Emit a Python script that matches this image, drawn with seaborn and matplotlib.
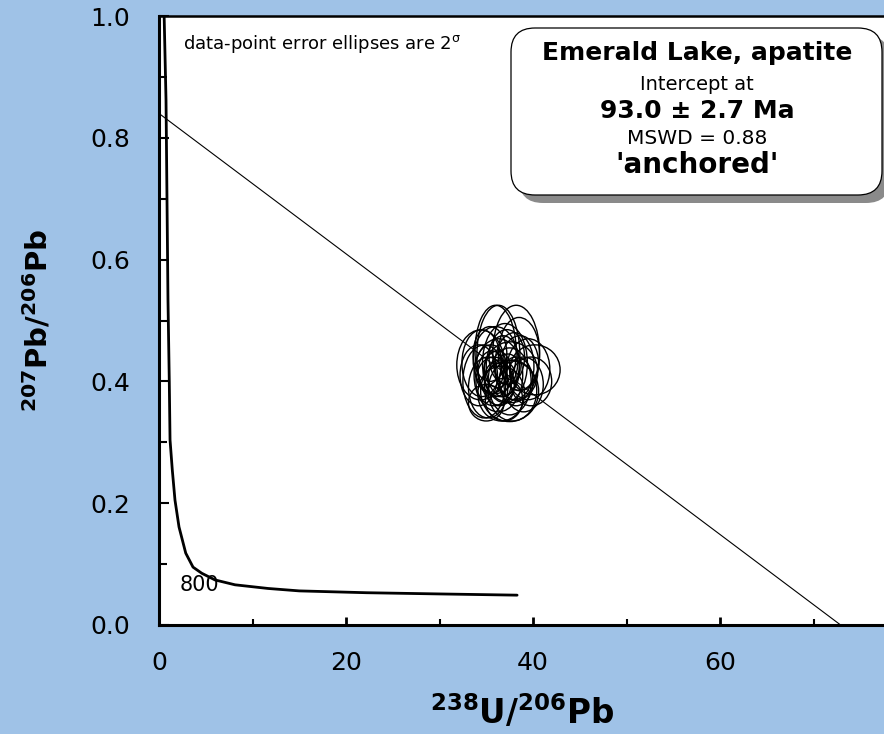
import numpy as np
import pandas as pd
import matplotlib
matplotlib.use("Agg")
import matplotlib.pyplot as plt
import seaborn as sns
from matplotlib.patches import Ellipse, FancyBboxPatch
from matplotlib.transforms import IdentityTransform

# ---- data ----
conc_x = [0.55, 0.75, 0.96, 1.10, 1.18, 1.42, 1.71, 2.14, 2.86, 3.64, 4.57, 5.99, 8.13, 11.66, 15.0, 22.2, 30.0, 38.3]
conc_y = [1.0, 0.862, 0.534, 0.40, 0.304, 0.255, 0.205, 0.161, 0.118, 0.095, 0.085, 0.074, 0.066, 0.060, 0.056, 0.053, 0.051, 0.049]

line_x = [0.0, 72.9]
line_y = [0.84, 0.0]

ell_x = [36.3, 38.2, 40.2, 34.4, 37.5, 36.0, 34.5, 39.5, 34.2, 36.3, 37.5, 35.2, 37.8, 36.6,
         35.8, 38.6, 36.8, 35.5, 37.2, 38.2, 36.0, 34.8, 37.6, 36.4, 39.0, 35.4, 36.9, 38.5,
         35.0, 36.2, 37.3, 39.8, 35.6, 37.0, 36.5, 38.0]
ell_y = [0.443, 0.447, 0.419, 0.427, 0.384, 0.45, 0.43, 0.42, 0.41, 0.41, 0.40, 0.39, 0.385, 0.38,
         0.40, 0.43, 0.425, 0.42, 0.44, 0.40, 0.435, 0.40, 0.415, 0.395, 0.395, 0.445, 0.37, 0.445,
         0.365, 0.42, 0.42, 0.40, 0.415, 0.43, 0.405, 0.425]
ell_w = [4.6, 5.0, 5.4, 5.1, 6.2, 4.4, 4.2, 4.6, 4.0, 5.2, 4.6, 4.2, 5.2, 5.0,
         3.8, 4.0, 3.6, 3.4, 3.8, 3.6, 4.8, 4.6, 5.8, 3.2, 4.2, 3.6, 4.0, 4.4,
         3.8, 2.8, 2.6, 4.4, 3.0, 4.8, 3.4, 4.2]
ell_h = [0.164, 0.156, 0.082, 0.115, 0.10, 0.15, 0.11, 0.10, 0.10, 0.12, 0.11, 0.10, 0.10, 0.09,
         0.08, 0.09, 0.10, 0.08, 0.09, 0.08, 0.11, 0.12, 0.10, 0.07, 0.09, 0.09, 0.07, 0.12,
         0.06, 0.06, 0.05, 0.08, 0.07, 0.13, 0.06, 0.11]

x_ticks = [0, 20, 40, 60]
y_ticks = [0.0, 0.2, 0.4, 0.6, 0.8, 1.0]

label_800 = "800"
box_lines = ["Emerald Lake, apatite", "Intercept at", "93.0 ± 2.7 Ma", "MSWD = 0.88", "'anchored'"]

# ---- style ----
sns.set_style("ticks")
plt.rcParams['font.family'] = ['DejaVu Sans']
plt.rcParams['mathtext.fontset'] = 'dejavusans'
for k in ['text.color', 'axes.labelcolor', 'xtick.color', 'ytick.color', 'axes.edgecolor']:
    plt.rcParams[k] = 'black'

BG = '#9FC2E7'
fig = plt.figure(figsize=(8.84, 7.34), dpi=100, facecolor=BG)
ax = fig.add_axes([159/884, 109/734, 748/884, 609/734])
ax.set_facecolor('white')

conc = pd.DataFrame({'x': conc_x, 'y': conc_y})
sns.lineplot(data=conc, x='x', y='y', sort=False, color='black', lw=2.0, ax=ax)
reg = pd.DataFrame({'x': line_x, 'y': line_y})
sns.lineplot(data=reg, x='x', y='y', sort=False, color='black', lw=0.8, ax=ax)

for cx, cy, w, h in zip(ell_x, ell_y, ell_w, ell_h):
    ax.add_patch(Ellipse((cx, cy), w, h, fill=False, edgecolor='black', lw=1.0))

ax.set_xlim(0, 80)
ax.set_ylim(0, 1.0)
ax.set_xticks(x_ticks)
ax.set_xticklabels([str(t) for t in x_ticks])
ax.set_yticks(y_ticks)
ax.set_yticklabels([f"{t:.1f}" for t in y_ticks])
ax.set_xticks([10, 30, 50, 70], minor=True)
ax.set_yticks([0.1, 0.3, 0.5, 0.7, 0.9], minor=True)
ax.tick_params(axis='x', which='major', direction='in', length=6, width=2, pad=19, labelsize=18)
ax.tick_params(axis='x', which='minor', direction='in', length=4, width=1.5)
ax.tick_params(axis='y', which='major', direction='in', length=7, width=1.5, pad=21, labelsize=18)
ax.tick_params(axis='y', which='minor', direction='in', length=6, width=1.5)
for s in ['left', 'bottom']:
    ax.spines[s].set_linewidth(2.2)
ax.spines['top'].set_linewidth(1.8)
ax.spines['right'].set_linewidth(1.8)

ax.set_xlabel(r'$\mathbf{^{238}U/^{206}Pb}$', fontsize=23.5)
ax.xaxis.set_label_coords(0.486, -0.143)
ax.xaxis.label.set_va('center')
ax.set_ylabel(r'$\mathbf{^{207}Pb/^{206}Pb}$', fontsize=21)
ax.yaxis.set_label_coords(-0.162, 0.50)
ax.yaxis.label.set_va('center')

ax.text(2.2, 0.066, label_800, fontsize=15, ha='left', va='center')
ax.text(183/884, 1 - 44/734, r'data-point error ellipses are 2$^{\mathrm{\sigma}}$', transform=fig.transFigure,
        fontsize=13, ha='left', va='center')

# info box (pixel coordinates)
H = 734
bx0, bx1, by_top, by_bot = 511, 882, 28, 195
shadow = FancyBboxPatch((bx0 + 8, H - by_bot - 8), bx1 - bx0, by_bot - by_top,
                        boxstyle='round,pad=0,rounding_size=24', transform=IdentityTransform(),
                        facecolor='#8a8a8a', edgecolor='none', zorder=5)
box = FancyBboxPatch((bx0, H - by_bot), bx1 - bx0, by_bot - by_top,
                     boxstyle='round,pad=0,rounding_size=24', transform=IdentityTransform(),
                     facecolor='white', edgecolor='black', lw=0.9, zorder=6)
fig.patches.extend([shadow, box])

cxp = 697 / 884
specs = [(53, 18, 'bold'), (85, 14, 'normal'), (111, 18, 'bold'), (139, 14.5, 'normal'), (165, 20, 'bold')]
for txt, (py, fs, fw) in zip(box_lines, specs):
    fig.text(cxp, 1 - py / H, txt, fontsize=fs, fontweight=fw, ha='center', va='center', zorder=7)

fig.savefig('out.png', dpi=100, facecolor=BG)
